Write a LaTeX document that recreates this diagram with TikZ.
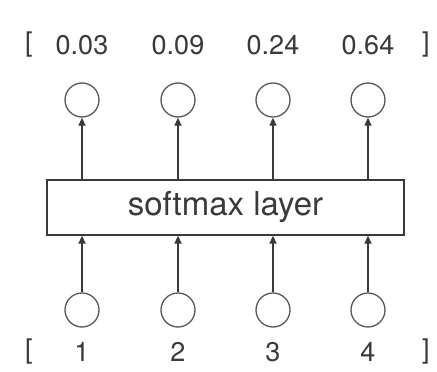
\documentclass[tikz,border=0pt]{standalone}
\usepackage{fontspec}
\setmainfont{TeX Gyre Heros}
\usetikzlibrary{arrows.meta}
\definecolor{ink}{HTML}{3A3A3A}
\begin{document}
\begin{tikzpicture}[x=1pt,y=-1pt,
  unit/.style={circle,draw=ink!85,line width=1.3pt,minimum size=34pt,inner sep=0pt},
  lbl/.style={text=ink,font=\fontsize{27}{27}\selectfont,inner sep=0pt},
  layerbox/.style={draw=ink,line width=1.3pt,minimum width=357pt,minimum height=55pt,inner sep=0pt,text=ink,font=\fontsize{33}{33}\selectfont},
  conn/.style={draw=ink,line width=1.3pt,-{Triangle[length=8pt,width=7pt]}}]
\useasboundingbox (0,0) rectangle (437,372);
\node[layerbox] (L) at (225.5,207.5) {softmax layer};
\foreach \i/\x/\o/\n in {1/82/0.03/1,2/178/0.09/2,3/273/0.24/3,4/368/0.64/4}{
  \node[unit] (t\i) at (\x,100) {};
  \node[unit] (b\i) at (\x,310) {};
  \node[lbl] (o\i) at (\x,45) {\o};
  \node[lbl] (n\i) at (\x,352) {\n};
  \draw[conn] (b\i.north) -- (b\i.north |- L.south);
  \draw[conn] (t\i.south |- L.north) -- (t\i.south);
}
\node[lbl] (ol) at (29,45) {[};
\node[lbl] (or) at (426,45) {]};
\node[lbl] (nl) at (29,352) {[};
\node[lbl] (nr) at (426,352) {]};
\end{tikzpicture}
\end{document}
